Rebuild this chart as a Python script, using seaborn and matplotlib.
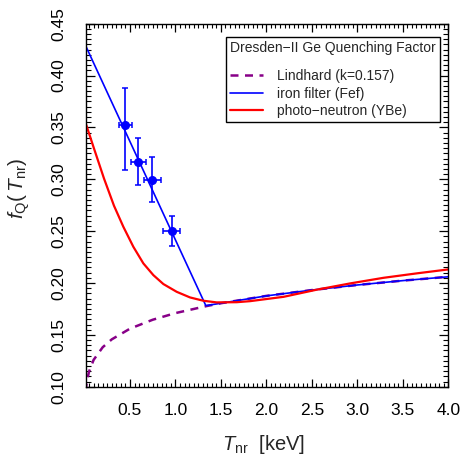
"""
Dresden-II Ge quenching factor plot
"""
import numpy as np
import matplotlib
matplotlib.use('Agg')
import matplotlib.pyplot as plt
from matplotlib.ticker import MultipleLocator, AutoMinorLocator
import seaborn as sns

sns.set_style('ticks')
plt.rcParams['font.family'] = ['Liberation Sans', 'DejaVu Sans']
plt.rcParams['mathtext.fontset'] = 'custom'
plt.rcParams['mathtext.rm'] = 'Liberation Sans'
plt.rcParams['mathtext.it'] = 'Liberation Sans:italic'
# ROOT-like frame: ticks inside on all four sides
plt.rcParams.update({
    'axes.edgecolor': 'black', 'axes.linewidth': 1.0,
    'xtick.color': 'black', 'ytick.color': 'black',
    'xtick.direction': 'in', 'ytick.direction': 'in',
    'xtick.top': True, 'xtick.bottom': True,
    'ytick.left': True, 'ytick.right': True,
    'xtick.minor.visible': True, 'ytick.minor.visible': True,
    'xtick.major.size': 5.5, 'xtick.minor.size': 3.0,
    'ytick.major.size': 6.5, 'ytick.minor.size': 3.4,
    'xtick.major.width': 0.9, 'xtick.minor.width': 0.8,
    'ytick.major.width': 0.9, 'ytick.minor.width': 0.8,
    'xtick.major.pad': 12, 'ytick.major.pad': 14,
    'xtick.labelsize': 12.5, 'ytick.labelsize': 12.5,
})

# Lindhard curve (k=0.157)
lind_E = [0.013, 0.02, 0.03, 0.05, 0.1, 0.2, 0.3, 0.5, 0.75, 1.0, 1.344,
          1.5, 2.0, 2.5, 3.0, 3.5, 4.0]
lind_f = [0.0954, 0.1013, 0.1070, 0.1147, 0.1259, 0.1381, 0.1457, 0.1560,
          0.1646, 0.1710, 0.1778, 0.1805, 0.1876, 0.1932, 0.1981, 0.2023, 0.2060]

# iron filter (Fef)
fef_E = [0.013, 1.334, 1.5, 2.0, 2.5, 3.0, 3.5, 4.0]
fef_f = [0.4286, 0.1782, 0.1805, 0.1876, 0.1932, 0.1981, 0.2023, 0.2060]

# photo-neutron (YBe)
ybe_E = [0.013, 0.104, 0.214, 0.324, 0.427, 0.537, 0.647, 0.757, 0.867,
         1.014, 1.16, 1.307, 1.454, 1.674, 1.82, 2.19, 2.55, 2.92, 3.287,
         3.654, 4.0]
ybe_f = [0.354, 0.3297, 0.3008, 0.2745, 0.2542, 0.2349, 0.2189, 0.2076,
         0.1990, 0.1915, 0.1861, 0.1829, 0.1813, 0.1815, 0.1825, 0.1867,
         0.1935, 0.1996, 0.2050, 0.2093, 0.2131]

# Fef data points
pts_E = [0.449, 0.592, 0.746, 0.959]
pts_f = [0.352, 0.3168, 0.2992, 0.2503]
pts_xerr = [0.073, 0.080, 0.090, 0.095]
pts_yerr_lo = [0.043, 0.022, 0.0215, 0.0147]
pts_yerr_hi = [0.036, 0.023, 0.022, 0.0145]

fig = plt.figure(figsize=(4.62, 4.55), dpi=100)
ax = fig.add_axes([0.1855, 0.150, 0.7848, 0.798])

sns.lineplot(x=lind_E, y=lind_f, ax=ax, color='#880088', lw=1.8,
             sort=False, estimator=None, label='Lindhard (k=0.157)')
ax.lines[-1].set_dashes([3.2, 2.6])
sns.lineplot(x=fef_E, y=fef_f, ax=ax, color='#0000ff', lw=1.2,
             sort=False, estimator=None, label='iron filter (Fef)')
sns.lineplot(x=ybe_E, y=ybe_f, ax=ax, color='#ff0000', lw=1.6,
             sort=False, estimator=None, label='photo\u2212neutron (YBe)')

ax.errorbar(pts_E, pts_f, xerr=pts_xerr, yerr=[pts_yerr_lo, pts_yerr_hi],
            fmt='o', color='#0000ff', ms=5.5, capsize=2.2, elinewidth=1.2,
            capthick=1.1, zorder=5)

ax.set_xlim(0.013, 4.0)
ax.set_ylim(0.10, 0.45)
ax.xaxis.set_major_locator(MultipleLocator(0.5))
ax.xaxis.set_minor_locator(AutoMinorLocator(10))
ax.yaxis.set_major_locator(MultipleLocator(0.05))
ax.yaxis.set_minor_locator(AutoMinorLocator(10))
ax.xaxis.set_major_formatter(plt.FormatStrFormatter('%.1f'))
ax.yaxis.set_major_formatter(plt.FormatStrFormatter('%.2f'))
for lab in ax.get_yticklabels():
    lab.set_rotation(90)
    lab.set_va('center')

ax.set_xlabel(r'$T_{\mathrm{nr}}$  [keV]', fontsize=14.5)
ax.xaxis.set_label_coords(0.49, -0.128)
ax.xaxis.label.set_va('top')
ax.set_ylabel(r'$f_{\mathrm{Q}}(\,T_{\mathrm{nr}})$', fontsize=15)
ax.yaxis.set_label_coords(-0.148, 0.547)

leg = ax.legend(title='Dresden\u2212II Ge Quenching Factor\n',
                loc='upper right', bbox_to_anchor=(440 / 462, 1 - 36.7 / 455),
                bbox_transform=fig.transFigure, borderaxespad=0,
                fontsize=10, title_fontsize=10, alignment='left',
                fancybox=False, shadow=False, framealpha=1,
                edgecolor='black', handlelength=2.4, handletextpad=1.0,
                labelspacing=0.25, borderpad=0.3)
leg.get_frame().set_linewidth(1.0)
leg.get_title().set_linespacing(0.7)

fig.savefig('out.png', dpi=100)
